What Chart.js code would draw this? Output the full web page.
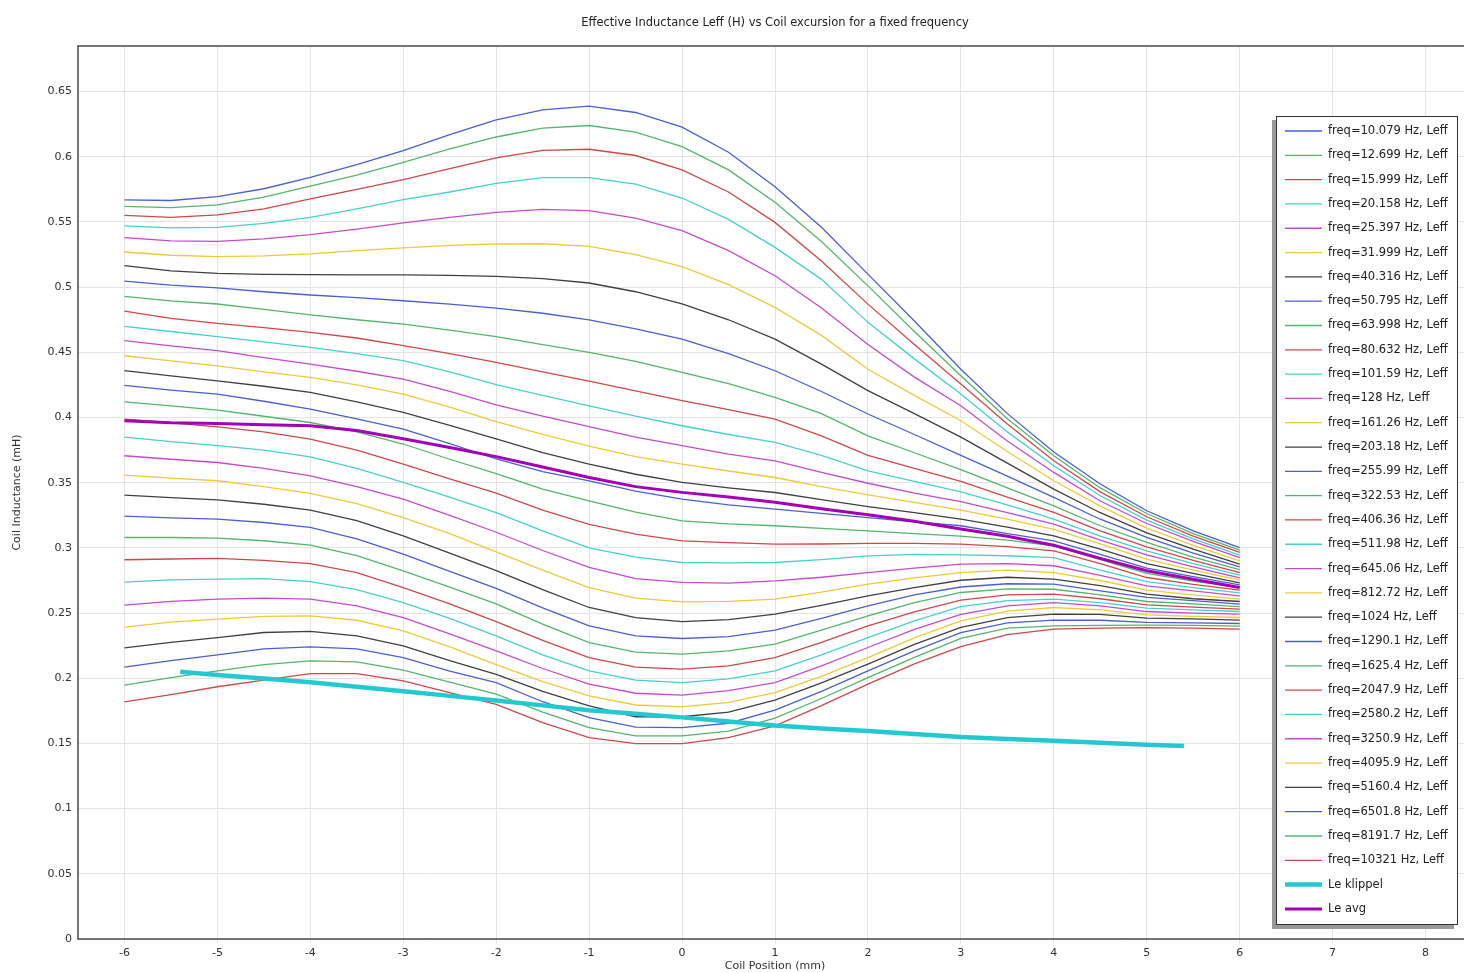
<!DOCTYPE html>
<html>
<head>
<meta charset="utf-8">
<script src="https://cdn.jsdelivr.net/npm/chart.js@4.4.1/dist/chart.umd.min.js"></script>
<style>
  html, body { margin: 0; padding: 0; background: #fff; overflow: hidden; }
  canvas { display: block; }
</style>
</head>
<body>
<canvas id="canvas" width="1472" height="973"></canvas>
<script>
// coil position (mm) for every frequency sweep
const positions = [-6, -5.5, -5, -4.5, -4, -3.5, -3, -2.5, -2, -1.5, -1, -0.5, 0,
  0.5, 1, 1.5, 2, 2.5, 3, 3.5, 4, 4.5, 5, 5.5, 6];

const frequencies = ["10.079", "12.699", "15.999", "20.158", "25.397", "31.999",
  "40.316", "50.795", "63.998", "80.632", "101.59", "128", "161.26", "203.18",
  "255.99", "322.53", "406.36", "511.98", "645.06", "812.72", "1024", "1290.1",
  "1625.4", "2047.9", "2580.2", "3250.9", "4095.9", "5160.4", "6501.8", "8191.7",
  "10321"];

// Leff (mH) per frequency, one row per entry of `frequencies`
const leffCurves = [
  [0.567, 0.5665, 0.5695, 0.5755, 0.5843, 0.594, 0.6048, 0.617, 0.6283, 0.636, 0.6389, 0.634, 0.6227, 0.6035, 0.5771, 0.546, 0.510, 0.474, 0.437, 0.403, 0.3735, 0.349, 0.3285, 0.313, 0.3003],
  [0.562, 0.561, 0.5631, 0.569, 0.5775, 0.586, 0.5958, 0.606, 0.6152, 0.622, 0.624, 0.619, 0.6078, 0.590, 0.5651, 0.535, 0.501, 0.466, 0.432, 0.399, 0.3707, 0.346, 0.3264, 0.311, 0.2983],
  [0.555, 0.5535, 0.5554, 0.560, 0.5677, 0.575, 0.5825, 0.591, 0.5991, 0.605, 0.6058, 0.601, 0.590, 0.573, 0.5497, 0.520, 0.487, 0.456, 0.4257, 0.395, 0.3668, 0.343, 0.3239, 0.309, 0.2965],
  [0.547, 0.5455, 0.5459, 0.549, 0.5536, 0.560, 0.5671, 0.573, 0.5797, 0.584, 0.584, 0.579, 0.5684, 0.552, 0.5305, 0.506, 0.473, 0.445, 0.418, 0.389, 0.363, 0.340, 0.3213, 0.307, 0.2945],
  [0.538, 0.5355, 0.5352, 0.537, 0.5403, 0.5445, 0.5493, 0.5535, 0.5574, 0.5597, 0.5587, 0.553, 0.5434, 0.528, 0.5088, 0.484, 0.456, 0.431, 0.409, 0.382, 0.3579, 0.336, 0.3187, 0.305, 0.2926],
  [0.527, 0.5245, 0.5234, 0.524, 0.5255, 0.528, 0.5301, 0.532, 0.5331, 0.5333, 0.5313, 0.525, 0.5157, 0.502, 0.4845, 0.463, 0.437, 0.417, 0.3975, 0.374, 0.3515, 0.332, 0.3152, 0.302, 0.2901],
  [0.5165, 0.5125, 0.5106, 0.5098, 0.5096, 0.5095, 0.5094, 0.509, 0.5083, 0.5065, 0.5032, 0.4965, 0.4871, 0.475, 0.4602, 0.441, 0.4206, 0.403, 0.385, 0.365, 0.3451, 0.327, 0.3116, 0.299, 0.2876],
  [0.5047, 0.5015, 0.4994, 0.4965, 0.494, 0.492, 0.4896, 0.487, 0.484, 0.480, 0.475, 0.468, 0.4602, 0.449, 0.4359, 0.420, 0.4027, 0.387, 0.371, 0.355, 0.3387, 0.322, 0.308, 0.296, 0.2855],
  [0.493, 0.4895, 0.4871, 0.483, 0.4787, 0.475, 0.4717, 0.467, 0.462, 0.456, 0.450, 0.443, 0.4346, 0.426, 0.4155, 0.403, 0.386, 0.373, 0.360, 0.346, 0.3323, 0.317, 0.3042, 0.293, 0.2834],
  [0.4817, 0.476, 0.4722, 0.469, 0.4653, 0.461, 0.4551, 0.449, 0.4423, 0.435, 0.428, 0.4205, 0.4129, 0.406, 0.3988, 0.386, 0.371, 0.361, 0.351, 0.339, 0.3272, 0.313, 0.3008, 0.2905, 0.2811],
  [0.470, 0.466, 0.462, 0.458, 0.4538, 0.449, 0.4436, 0.435, 0.4252, 0.417, 0.409, 0.401, 0.3937, 0.387, 0.3809, 0.371, 0.359, 0.351, 0.343, 0.333, 0.322, 0.309, 0.2978, 0.288, 0.2791],
  [0.459, 0.455, 0.4513, 0.446, 0.441, 0.4355, 0.4295, 0.420, 0.4098, 0.401, 0.393, 0.385, 0.3784, 0.372, 0.3668, 0.358, 0.3496, 0.342, 0.3355, 0.327, 0.3182, 0.306, 0.2947, 0.2855, 0.2771],
  [0.4474, 0.4435, 0.4397, 0.435, 0.4308, 0.425, 0.418, 0.408, 0.3968, 0.387, 0.378, 0.370, 0.3643, 0.359, 0.354, 0.347, 0.3406, 0.335, 0.329, 0.322, 0.3143, 0.303, 0.2914, 0.283, 0.2753],
  [0.436, 0.432, 0.4282, 0.424, 0.4193, 0.412, 0.4039, 0.394, 0.3837, 0.373, 0.3643, 0.3565, 0.3502, 0.346, 0.3425, 0.337, 0.3316, 0.327, 0.322, 0.316, 0.3093, 0.299, 0.288, 0.2805, 0.2732],
  [0.4247, 0.421, 0.418, 0.4125, 0.4065, 0.399, 0.3911, 0.380, 0.3682, 0.3585, 0.3515, 0.3435, 0.3374, 0.333, 0.3297, 0.3265, 0.3233, 0.320, 0.317, 0.311, 0.3054, 0.295, 0.2845, 0.278, 0.2717],
  [0.412, 0.409, 0.4057, 0.401, 0.3962, 0.389, 0.3797, 0.368, 0.357, 0.345, 0.336, 0.3275, 0.3208, 0.3185, 0.317, 0.315, 0.3131, 0.311, 0.309, 0.306, 0.3016, 0.291, 0.2804, 0.2745, 0.2696],
  [0.3988, 0.396, 0.3929, 0.389, 0.3835, 0.375, 0.3643, 0.353, 0.342, 0.329, 0.318, 0.3105, 0.3054, 0.304, 0.3029, 0.303, 0.3034, 0.3035, 0.3029, 0.301, 0.2978, 0.288, 0.2773, 0.272, 0.2676],
  [0.385, 0.3815, 0.3784, 0.375, 0.3699, 0.361, 0.3502, 0.339, 0.327, 0.313, 0.300, 0.293, 0.2888, 0.2885, 0.2888, 0.291, 0.2939, 0.295, 0.2947, 0.294, 0.2926, 0.283, 0.2742, 0.2695, 0.2655],
  [0.3707, 0.368, 0.3655, 0.361, 0.3553, 0.347, 0.3374, 0.325, 0.312, 0.298, 0.285, 0.2765, 0.2735, 0.273, 0.2747, 0.2775, 0.2811, 0.2845, 0.2875, 0.288, 0.2863, 0.279, 0.2709, 0.267, 0.2632],
  [0.3559, 0.3535, 0.3515, 0.347, 0.3418, 0.334, 0.3233, 0.311, 0.297, 0.283, 0.2696, 0.2615, 0.2586, 0.259, 0.2607, 0.266, 0.2722, 0.277, 0.2811, 0.283, 0.2811, 0.275, 0.2676, 0.264, 0.2607],
  [0.3405, 0.3385, 0.3369, 0.3335, 0.329, 0.321, 0.3093, 0.296, 0.2825, 0.268, 0.2543, 0.2465, 0.2435, 0.245, 0.2492, 0.256, 0.2632, 0.2695, 0.2752, 0.2775, 0.276, 0.271, 0.2645, 0.261, 0.2589],
  [0.3244, 0.323, 0.322, 0.3195, 0.3157, 0.307, 0.2952, 0.282, 0.269, 0.254, 0.2402, 0.2325, 0.2305, 0.232, 0.2369, 0.246, 0.2556, 0.264, 0.270, 0.2725, 0.2722, 0.267, 0.262, 0.2595, 0.2569],
  [0.308, 0.308, 0.3075, 0.3055, 0.3021, 0.294, 0.2824, 0.270, 0.257, 0.2415, 0.2274, 0.220, 0.2185, 0.221, 0.2262, 0.237, 0.2479, 0.258, 0.2658, 0.2685, 0.2683, 0.264, 0.2589, 0.257, 0.255],
  [0.2909, 0.2915, 0.2919, 0.2905, 0.288, 0.281, 0.2696, 0.257, 0.2434, 0.229, 0.2159, 0.2085, 0.207, 0.2095, 0.2159, 0.2275, 0.2402, 0.251, 0.260, 0.264, 0.2645, 0.261, 0.2563, 0.2545, 0.253],
  [0.2737, 0.2755, 0.276, 0.2765, 0.2742, 0.268, 0.2581, 0.246, 0.2325, 0.218, 0.2057, 0.1985, 0.1967, 0.1995, 0.2057, 0.218, 0.2312, 0.244, 0.255, 0.2595, 0.2607, 0.258, 0.2538, 0.2525, 0.2512],
  [0.2561, 0.259, 0.2607, 0.2615, 0.2607, 0.2555, 0.2466, 0.234, 0.221, 0.2075, 0.1955, 0.1885, 0.187, 0.1905, 0.1967, 0.2095, 0.2236, 0.2375, 0.249, 0.2555, 0.2581, 0.2555, 0.2512, 0.250, 0.2492],
  [0.2392, 0.243, 0.2454, 0.2475, 0.2479, 0.2445, 0.2364, 0.224, 0.2105, 0.1975, 0.1865, 0.1795, 0.178, 0.1815, 0.189, 0.2015, 0.2159, 0.231, 0.244, 0.2515, 0.2543, 0.2525, 0.2487, 0.2475, 0.2466],
  [0.2233, 0.2275, 0.2312, 0.2351, 0.2359, 0.2326, 0.2249, 0.2135, 0.203, 0.190, 0.1788, 0.1705, 0.1705, 0.174, 0.1832, 0.1965, 0.2108, 0.226, 0.239, 0.2465, 0.2492, 0.249, 0.2461, 0.2455, 0.2446],
  [0.2085, 0.2135, 0.218, 0.2225, 0.2241, 0.2225, 0.2159, 0.2055, 0.1967, 0.182, 0.1698, 0.1625, 0.1622, 0.1655, 0.1755, 0.190, 0.2057, 0.221, 0.235, 0.2425, 0.2446, 0.2445, 0.2428, 0.2425, 0.242],
  [0.1947, 0.2005, 0.2057, 0.2105, 0.2134, 0.2125, 0.2062, 0.197, 0.1878, 0.174, 0.1622, 0.1558, 0.1558, 0.1595, 0.1694, 0.1845, 0.2005, 0.216, 0.2306, 0.2385, 0.2402, 0.2405, 0.2407, 0.2405, 0.240],
  [0.1819, 0.1875, 0.1935, 0.1985, 0.2036, 0.2036, 0.198, 0.189, 0.180, 0.166, 0.1545, 0.1499, 0.1499, 0.1545, 0.1635, 0.179, 0.1955, 0.211, 0.2243, 0.2335, 0.2377, 0.2385, 0.2389, 0.2385, 0.2377],
];

// Klippel measurement
const klippelPositions = [-5.4, -5, -4.5, -4, -3.5, -3, -2.5, -2, -1.5, -1, -0.5, 0,
  0.5, 1, 1.5, 2, 2.5, 3, 3.5, 4, 4.5, 5, 5.4];
const klippelLe = [0.205, 0.2025, 0.1998, 0.197, 0.1935, 0.190, 0.1865, 0.183, 0.1792,
  0.1755, 0.1727, 0.170, 0.1668, 0.1637, 0.1615, 0.1595, 0.1572, 0.155, 0.1535, 0.152,
  0.1505, 0.149, 0.148];

// average over all frequencies, same positions as the sweeps
const leAvg = [0.3975, 0.396, 0.3955, 0.3945, 0.3937, 0.390, 0.3837, 0.377, 0.370, 0.362,
  0.354, 0.347, 0.3426, 0.339, 0.335, 0.330, 0.3255, 0.3205, 0.3145, 0.309, 0.302, 0.292,
  0.2825, 0.276, 0.2696];

// axis ticks
const xTickValues = [-6, -5, -4, -3, -2, -1, 0, 1, 2, 3, 4, 5, 6, 7, 8];
const yTickValues = [0, 0.05, 0.1, 0.15, 0.2, 0.25, 0.3, 0.35, 0.4, 0.45, 0.5, 0.55, 0.6, 0.65];

const palette = ["#4b5fd3", "#55b56b", "#cf4848", "#48cfcf", "#c34ccc", "#efc93c", "#404040"];

const toPoints = (xs, ys) => xs.map((x, i) => ({ x: x, y: ys[i] }));

const datasets = leffCurves.map((row, i) => ({
  label: "freq=" + frequencies[i] + " Hz, Leff",
  data: toPoints(positions, row),
  borderColor: palette[i % palette.length],
  borderWidth: 1.3,
  order: 2,
}));
datasets.push({
  label: "Le klippel",
  data: toPoints(klippelPositions, klippelLe),
  borderColor: "#22c9cf",
  borderWidth: 4.5,
  order: 1,
});
datasets.push({
  label: "Le avg",
  data: toPoints(positions, leAvg),
  borderColor: "#a300b6",
  borderWidth: 3,
  order: 0,
});

const titleText = "Effective Inductance Leff (H) vs Coil excursion for a fixed frequency";

// title, plot frame and the boxed legend inside the plot
const frameAndLegend = {
  id: "frameAndLegend",
  afterDraw(chart) {
    const { ctx, chartArea: { left, top, right, bottom } } = chart;
    ctx.save();

    ctx.fillStyle = "#222";
    ctx.font = '11.5px "DejaVu Sans"';
    ctx.textAlign = "center";
    ctx.textBaseline = "middle";
    ctx.fillText(titleText, (left + right) / 2, 23);

    ctx.strokeStyle = "#4a4a4a";
    ctx.lineWidth = 1.5;
    ctx.strokeRect(left, top, right - left, bottom - top);

    // legend box with its shadow to the lower left
    const box = { x: 1276, y: 116, w: 182, h: 809 };
    ctx.fillStyle = "#9a9a9a";
    ctx.fillRect(box.x - 4, box.y + 4, box.w, box.h);
    ctx.fillStyle = "#ffffff";
    ctx.fillRect(box.x, box.y, box.w, box.h);
    ctx.strokeStyle = "#333";
    ctx.lineWidth = 1;
    ctx.strokeRect(box.x + 0.5, box.y + 0.5, box.w - 1, box.h - 1);

    const step = 24.31;
    ctx.font = '11.5px "DejaVu Sans"';
    ctx.textAlign = "left";
    chart.data.datasets.forEach((ds, i) => {
      const y = 131 + i * step;
      ctx.strokeStyle = ds.borderColor;
      ctx.lineWidth = ds.borderWidth;
      ctx.beginPath();
      ctx.moveTo(1285, y);
      ctx.lineTo(1322, y);
      ctx.stroke();
      ctx.fillStyle = "#222";
      ctx.fillText(ds.label, 1328, y);
    });

    ctx.restore();
  },
};

Chart.defaults.font.family = '"DejaVu Sans", sans-serif';
Chart.defaults.color = "#333";

new Chart(document.getElementById("canvas"), {
  type: "line",
  data: { datasets: datasets },
  options: {
    responsive: false,
    animation: false,
    layout: { padding: { top: 46, right: 0, left: 0, bottom: 0 } },
    elements: {
      point: { radius: 0 },
      line: { tension: 0, fill: false },
    },
    plugins: {
      legend: { display: false },
      title: { display: false },
      tooltip: { enabled: false },
    },
    scales: {
      x: {
        type: "linear",
        min: -6.5,
        max: 8.5,
        afterBuildTicks(scale) { scale.ticks = xTickValues.map((v) => ({ value: v })); },
        afterFit(scale) {
          scale.height = 34;
          scale.paddingLeft = 0;
          scale.paddingRight = 0;
        },
        border: { display: false },
        grid: { color: "#e4e4e4", lineWidth: 1, tickLength: 5 },
        ticks: {
          padding: 3,
          maxRotation: 0,
          autoSkip: false,
          font: { size: 11 },
          callback: (v) => String(v),
        },
        title: {
          display: true,
          text: "Coil Position (mm)",
          font: { size: 11 },
          padding: { top: 0, bottom: 0 },
        },
      },
      y: {
        min: 0,
        max: 0.685,
        afterBuildTicks(scale) { scale.ticks = yTickValues.map((v) => ({ value: v })); },
        afterFit(scale) { scale.width = 78; },
        border: { display: false },
        grid: { color: "#e4e4e4", lineWidth: 1, drawTicks: false },
        ticks: {
          padding: 6,
          autoSkip: false,
          font: { size: 11 },
          callback: (v) => String(+v.toFixed(2)),
        },
        title: {
          display: true,
          text: "Coil Inductance (mH)",
          font: { size: 11 },
          padding: { top: 11, bottom: 0 },
        },
      },
    },
  },
  plugins: [frameAndLegend],
});
</script>
</body>
</html>
